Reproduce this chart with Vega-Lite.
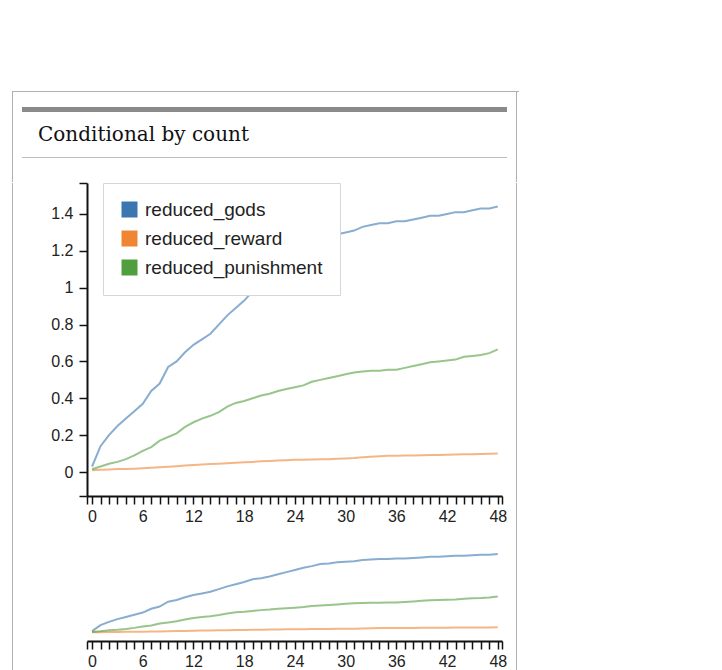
{
  "$schema": "https://vega.github.io/schema/vega-lite/v6.json",
  "background": "white",
  "padding": {"left": 12, "top": 91, "right": 0, "bottom": 0},
  "config": {"view": {"stroke": null}, "font": "Liberation Sans", "concat": {"spacing": 0}},
  "datasets": {
    "d": [
      {"count": 0, "reduced_gods": 0.03, "reduced_reward": 0.01, "reduced_punishment": 0.015},
      {"count": 1, "reduced_gods": 0.14, "reduced_reward": 0.012, "reduced_punishment": 0.03},
      {"count": 2, "reduced_gods": 0.2, "reduced_reward": 0.014, "reduced_punishment": 0.045},
      {"count": 3, "reduced_gods": 0.25, "reduced_reward": 0.016, "reduced_punishment": 0.055},
      {"count": 4, "reduced_gods": 0.29, "reduced_reward": 0.017, "reduced_punishment": 0.07},
      {"count": 5, "reduced_gods": 0.33, "reduced_reward": 0.018, "reduced_punishment": 0.09},
      {"count": 6, "reduced_gods": 0.37, "reduced_reward": 0.02, "reduced_punishment": 0.115},
      {"count": 7, "reduced_gods": 0.44, "reduced_reward": 0.023, "reduced_punishment": 0.135},
      {"count": 8, "reduced_gods": 0.48, "reduced_reward": 0.026, "reduced_punishment": 0.17},
      {"count": 9, "reduced_gods": 0.57, "reduced_reward": 0.029, "reduced_punishment": 0.19},
      {"count": 10, "reduced_gods": 0.6, "reduced_reward": 0.032, "reduced_punishment": 0.21},
      {"count": 11, "reduced_gods": 0.65, "reduced_reward": 0.035, "reduced_punishment": 0.245},
      {"count": 12, "reduced_gods": 0.69, "reduced_reward": 0.038, "reduced_punishment": 0.27},
      {"count": 13, "reduced_gods": 0.72, "reduced_reward": 0.041, "reduced_punishment": 0.29},
      {"count": 14, "reduced_gods": 0.75, "reduced_reward": 0.043, "reduced_punishment": 0.305},
      {"count": 15, "reduced_gods": 0.8, "reduced_reward": 0.045, "reduced_punishment": 0.325},
      {"count": 16, "reduced_gods": 0.85, "reduced_reward": 0.047, "reduced_punishment": 0.355},
      {"count": 17, "reduced_gods": 0.89, "reduced_reward": 0.05, "reduced_punishment": 0.375},
      {"count": 18, "reduced_gods": 0.93, "reduced_reward": 0.053, "reduced_punishment": 0.385},
      {"count": 19, "reduced_gods": 0.98, "reduced_reward": 0.055, "reduced_punishment": 0.4},
      {"count": 20, "reduced_gods": 1.0, "reduced_reward": 0.058, "reduced_punishment": 0.415},
      {"count": 21, "reduced_gods": 1.03, "reduced_reward": 0.06, "reduced_punishment": 0.425},
      {"count": 22, "reduced_gods": 1.07, "reduced_reward": 0.062, "reduced_punishment": 0.44},
      {"count": 23, "reduced_gods": 1.11, "reduced_reward": 0.064, "reduced_punishment": 0.45},
      {"count": 24, "reduced_gods": 1.15, "reduced_reward": 0.066, "reduced_punishment": 0.46},
      {"count": 25, "reduced_gods": 1.19, "reduced_reward": 0.067, "reduced_punishment": 0.47},
      {"count": 26, "reduced_gods": 1.22, "reduced_reward": 0.068, "reduced_punishment": 0.49},
      {"count": 27, "reduced_gods": 1.26, "reduced_reward": 0.069, "reduced_punishment": 0.5},
      {"count": 28, "reduced_gods": 1.27, "reduced_reward": 0.07, "reduced_punishment": 0.51},
      {"count": 29, "reduced_gods": 1.29, "reduced_reward": 0.072, "reduced_punishment": 0.52},
      {"count": 30, "reduced_gods": 1.3, "reduced_reward": 0.074, "reduced_punishment": 0.53},
      {"count": 31, "reduced_gods": 1.31, "reduced_reward": 0.076, "reduced_punishment": 0.54},
      {"count": 32, "reduced_gods": 1.33, "reduced_reward": 0.08, "reduced_punishment": 0.545},
      {"count": 33, "reduced_gods": 1.34, "reduced_reward": 0.083, "reduced_punishment": 0.55},
      {"count": 34, "reduced_gods": 1.35, "reduced_reward": 0.086, "reduced_punishment": 0.55},
      {"count": 35, "reduced_gods": 1.35, "reduced_reward": 0.088, "reduced_punishment": 0.555},
      {"count": 36, "reduced_gods": 1.36, "reduced_reward": 0.089, "reduced_punishment": 0.555},
      {"count": 37, "reduced_gods": 1.36, "reduced_reward": 0.09, "reduced_punishment": 0.565},
      {"count": 38, "reduced_gods": 1.37, "reduced_reward": 0.09, "reduced_punishment": 0.575},
      {"count": 39, "reduced_gods": 1.38, "reduced_reward": 0.091, "reduced_punishment": 0.585},
      {"count": 40, "reduced_gods": 1.39, "reduced_reward": 0.092, "reduced_punishment": 0.595},
      {"count": 41, "reduced_gods": 1.39, "reduced_reward": 0.093, "reduced_punishment": 0.6},
      {"count": 42, "reduced_gods": 1.4, "reduced_reward": 0.094, "reduced_punishment": 0.605},
      {"count": 43, "reduced_gods": 1.41, "reduced_reward": 0.095, "reduced_punishment": 0.61},
      {"count": 44, "reduced_gods": 1.41, "reduced_reward": 0.096, "reduced_punishment": 0.625},
      {"count": 45, "reduced_gods": 1.42, "reduced_reward": 0.097, "reduced_punishment": 0.63},
      {"count": 46, "reduced_gods": 1.43, "reduced_reward": 0.098, "reduced_punishment": 0.635},
      {"count": 47, "reduced_gods": 1.43, "reduced_reward": 0.099, "reduced_punishment": 0.645},
      {"count": 48, "reduced_gods": 1.44, "reduced_reward": 0.1, "reduced_punishment": 0.665}
    ]
  },
  "spacing": 0,
  "vconcat": [
    {"width": 507, "height": 1, "data": {"values": []}, "mark": "point", "encoding": {}, "view": {"fill": "#b0b0b0", "stroke": null}},
    {
      "spacing": 9,
      "hconcat": [
        {"width": 1, "height": 90, "data": {"values": []}, "mark": "point", "encoding": {}, "view": {"fill": "#b0b0b0", "stroke": null}},
        {
          "spacing": 0,
          "vconcat": [
            {"width": 1, "height": 15, "data": {"values": []}, "mark": "point", "encoding": {}},
            {"width": 485, "height": 5, "data": {"values": []}, "mark": "point", "encoding": {}, "view": {"fill": "#8a8a8a", "stroke": null}},
            {"width": 1, "height": 13, "data": {"values": []}, "mark": "point", "encoding": {}},
            {
              "width": 485, "height": 1, "data": {"values": []}, "mark": "point", "encoding": {},
              "view": {"fill": "#bdbdbd", "stroke": null},
              "title": {"text": "Conditional by count", "orient": "top", "anchor": "start", "offset": 12, "dx": 16, "font": "DejaVu Serif", "fontSize": 20, "fontWeight": "normal", "color": "#111111"}
            }
          ]
        },
        {"width": 1, "height": 90, "data": {"values": []}, "mark": "point", "encoding": {}, "view": {"fill": "#b0b0b0", "stroke": null}}
      ]
    },
    {
      "spacing": 9,
      "hconcat": [
        {"width": 1, "height": 520, "data": {"values": []}, "mark": "point", "encoding": {}, "view": {"fill": "#b0b0b0", "stroke": null}},
        {
          "spacing": 23,
          "resolve": {"scale": {"color": "independent", "x": "independent", "y": "independent"}, "legend": {"color": "independent"}},
          "vconcat": [
            {
              "width": 415, "height": 313,
              "data": {"name": "d"},
              "transform": [{"fold": ["reduced_gods", "reduced_reward", "reduced_punishment"], "as": ["series", "value"]}],
              "encoding": {
                "x": {"field": "count", "type": "quantitative", "scale": {"domain": [-0.6, 48.5], "nice": false, "zero": false},
                  "axis": {"title": null, "grid": false, "values": [-0.6, 0, 1, 2, 3, 4, 5, 6, 7, 8, 9, 10, 11, 12, 13, 14, 15, 16, 17, 18, 19, 20, 21, 22, 23, 24, 25, 26, 27, 28, 29, 30, 31, 32, 33, 34, 35, 36, 37, 38, 39, 40, 41, 42, 43, 44, 45, 46, 47, 48, 48.5],
                    "labelExpr": "datum.value >= 0 && datum.value % 6 == 0 ? datum.label : ''",
                    "tickSize": 8, "tickWidth": 1.5, "tickColor": "#111", "domainColor": "#111", "domainWidth": 2,
                    "labelFontSize": 16, "labelColor": "#222", "labelPadding": 4, "labelFlush": false, "labelOverlap": false}},
                "y": {"field": "value", "type": "quantitative", "scale": {"domain": [-0.13, 1.568], "nice": false, "zero": false},
                  "axis": {"title": null, "grid": false, "values": [-0.13, 0, 0.2, 0.4, 0.6, 0.8, 1, 1.2, 1.4, 1.568],
                    "labelExpr": "datum.value < -0.01 || datum.value > 1.5 ? '' : format(datum.value, '.1~f')",
                    "labelFontSize": {"condition": {"test": "datum.value < -0.01 || datum.value > 1.5", "value": 0}, "value": 16},
                    "tickSize": 8, "tickWidth": 1.5, "tickColor": "#111", "domainColor": "#111", "domainWidth": 2,
                    "labelColor": "#222", "labelPadding": 6, "labelFlush": false, "labelOverlap": false,
                    "minExtent": 65, "maxExtent": 65}}
              },
              "layer": [
                {
                  "mark": {"type": "point", "shape": "square", "filled": true, "opacity": 0},
                  "encoding": {
                    "color": {"field": "series", "type": "nominal",
                      "scale": {"domain": ["reduced_gods", "reduced_reward", "reduced_punishment"], "range": ["#3a76b0", "#ef8636", "#519e3e"]},
                      "legend": {"title": null, "orient": "none", "legendX": 16, "legendY": 0, "symbolType": "square", "symbolSize": 256, "symbolStrokeWidth": 0, "symbolOpacity": 1,
                        "labelFontSize": 19, "labelColor": "#222", "labelOffset": 6, "rowPadding": 9, "padding": 17, "strokeColor": "#d6d6d6", "fillColor": "white", "labelLimit": 300}}
                  }
                },
                {
                  "mark": {"type": "line", "strokeWidth": 2, "opacity": 0.6, "clip": true},
                  "encoding": {
                    "color": {"field": "series", "type": "nominal",
                      "scale": {"domain": ["reduced_gods", "reduced_reward", "reduced_punishment"], "range": ["#3a76b0", "#ef8636", "#519e3e"]},
                      "legend": {"title": null, "orient": "none", "legendX": 16, "legendY": 0, "symbolType": "square", "symbolSize": 256, "symbolStrokeWidth": 0, "symbolOpacity": 1,
                        "labelFontSize": 19, "labelColor": "#222", "labelOffset": 6, "rowPadding": 9, "padding": 17, "strokeColor": "#d6d6d6", "fillColor": "white", "labelLimit": 300}}
                  }
                }
              ]
            },
            {
              "width": 415, "height": 94,
              "data": {"name": "d"},
              "transform": [{"fold": ["reduced_gods", "reduced_reward", "reduced_punishment"], "as": ["series", "value"]}],
              "mark": {"type": "line", "strokeWidth": 2, "opacity": 0.6, "clip": true},
              "encoding": {
                "x": {"field": "count", "type": "quantitative", "scale": {"domain": [-0.6, 48.5], "nice": false, "zero": false},
                  "axis": {"title": null, "grid": false, "values": [-0.6, 0, 1, 2, 3, 4, 5, 6, 7, 8, 9, 10, 11, 12, 13, 14, 15, 16, 17, 18, 19, 20, 21, 22, 23, 24, 25, 26, 27, 28, 29, 30, 31, 32, 33, 34, 35, 36, 37, 38, 39, 40, 41, 42, 43, 44, 45, 46, 47, 48, 48.5],
                    "labelExpr": "datum.value >= 0 && datum.value % 6 == 0 ? datum.label : ''",
                    "tickSize": 8, "tickWidth": 1.5, "tickColor": "#111", "domainColor": "#111", "domainWidth": 2,
                    "labelFontSize": 16, "labelColor": "#222", "labelPadding": 4, "labelFlush": false, "labelOverlap": false}},
                "y": {"field": "value", "type": "quantitative", "scale": {"domain": [-0.15, 1.57], "nice": false, "zero": false},
                  "axis": {"title": null, "grid": false, "labels": false, "ticks": false, "domain": false, "minExtent": 65, "maxExtent": 65}},
                "color": {"field": "series", "type": "nominal",
                  "scale": {"domain": ["reduced_gods", "reduced_reward", "reduced_punishment"], "range": ["#3a76b0", "#ef8636", "#519e3e"]},
                  "legend": null}
              }
            }
          ]
        },
        {"width": 1, "height": 520, "data": {"values": []}, "mark": "point", "encoding": {}, "view": {"fill": "#b0b0b0", "stroke": null}}
      ]
    }
  ]
}
